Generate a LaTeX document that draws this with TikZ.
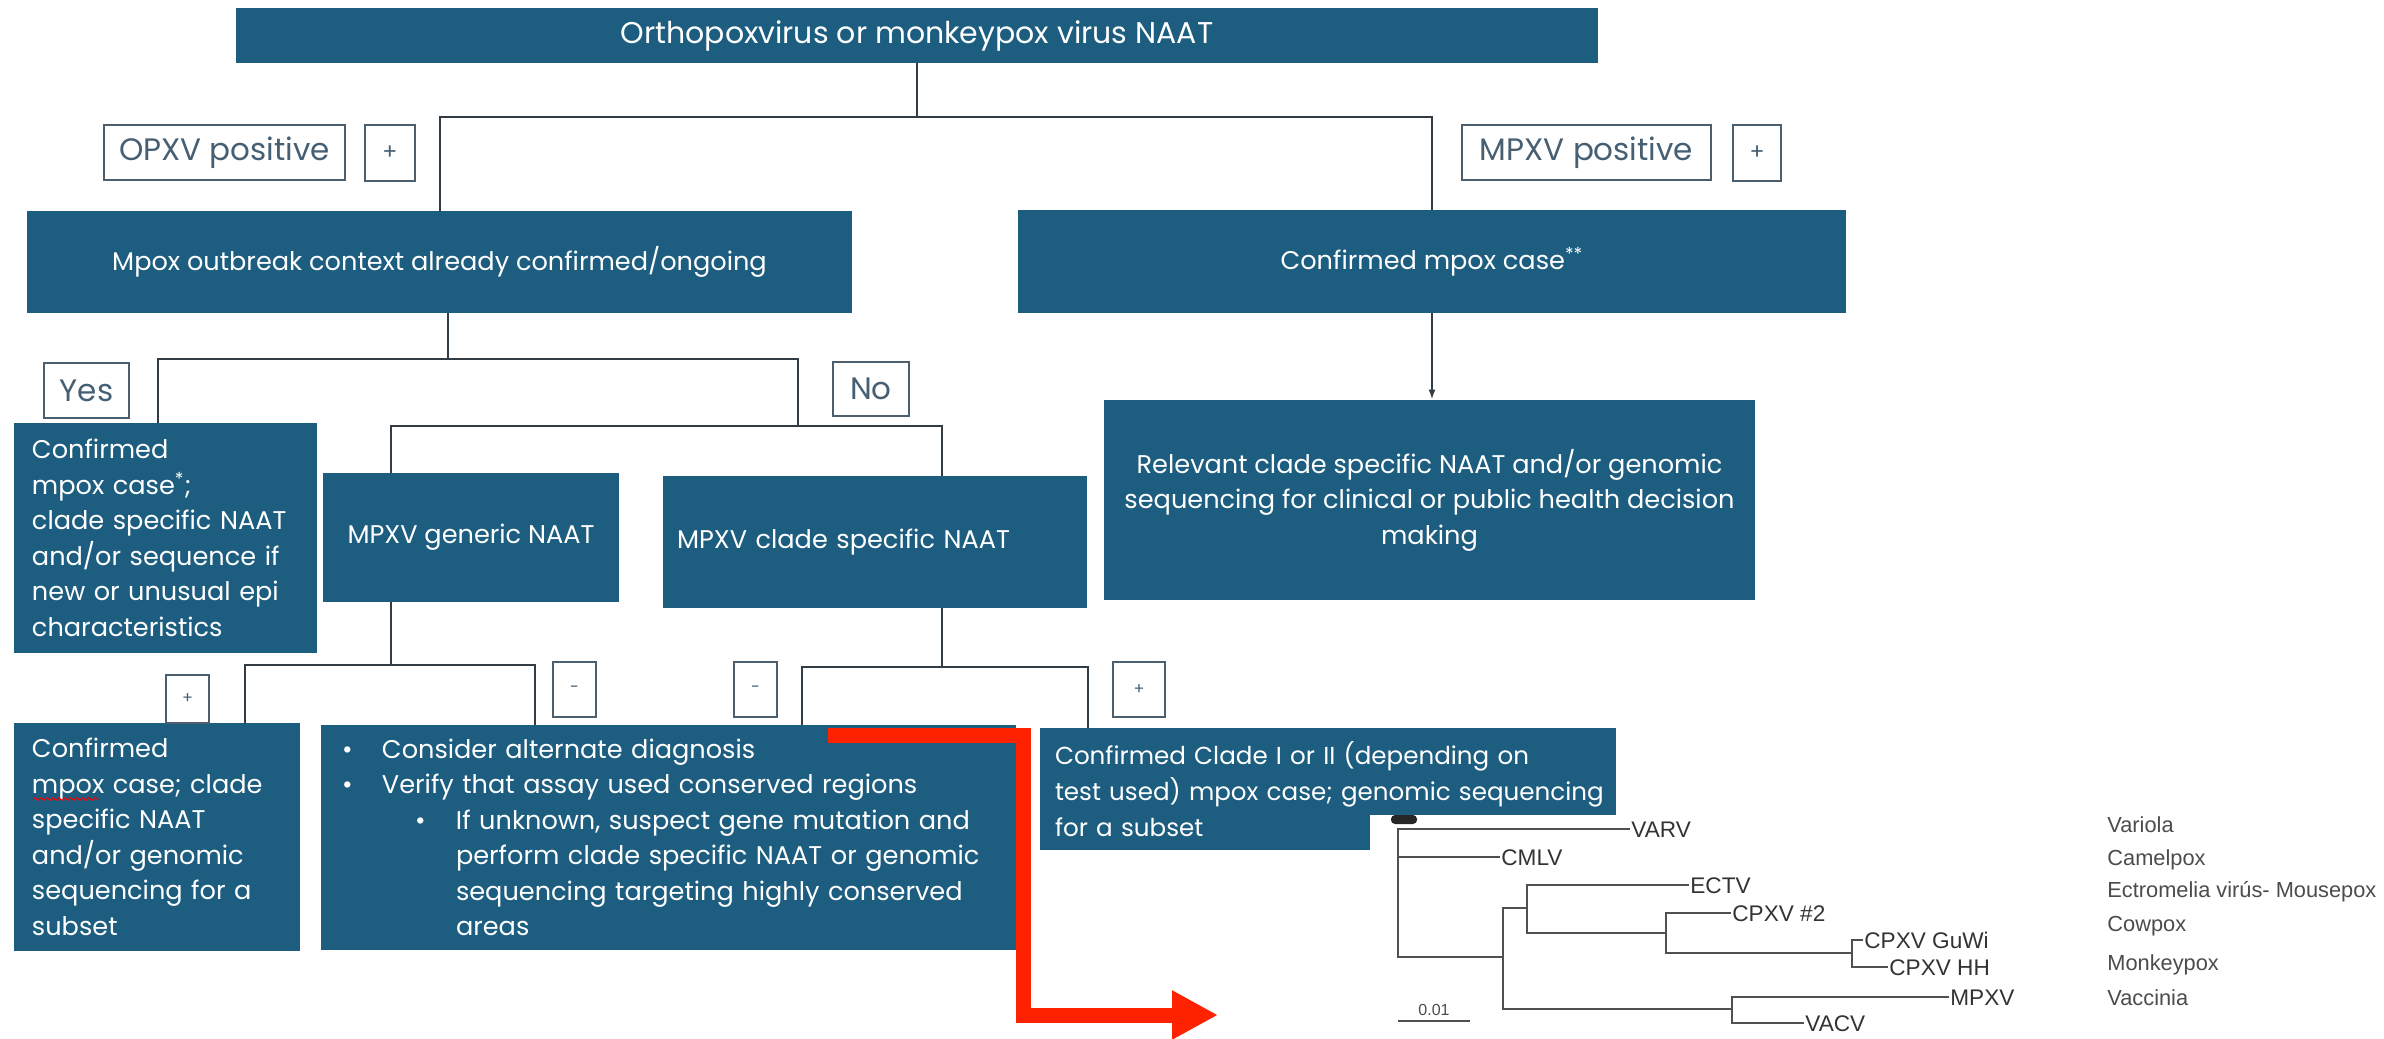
\documentclass[tikz,border=0pt]{standalone}
\usepackage{fontspec}
\setmainfont{Poppins}
\newfontfamily\treefont{Liberation Sans}
\usetikzlibrary{arrows.meta,decorations.pathmorphing}
\definecolor{boxblue}{RGB}{28,93,128}
\definecolor{lblborder}{RGB}{75,95,110}
\definecolor{lbltext}{RGB}{70,95,115}
\definecolor{wirecol}{RGB}{50,60,68}
\definecolor{redarrow}{RGB}{255,34,0}
\definecolor{treegray}{RGB}{80,80,80}
\begin{document}
\begin{tikzpicture}[x=0.5pt,y=-0.5pt,
  box/.style={fill=boxblue, draw=none, text=white, font=\fontsize{12.8}{17.75}\selectfont, inner sep=0pt},
  lbl/.style={fill=white, draw=lblborder, line width=1.1pt, text=lbltext, font=\fontsize{15.5}{17}\selectfont, inner sep=0pt},
  sml/.style={lbl, font=\fontsize{8}{9}\selectfont},
  wire/.style={draw=wirecol, line width=1pt},
  tree/.style={draw=treegray, line width=1.3pt, line cap=rect},
  tlab/.style={font=\treefont\fontsize{11.3}{12}\selectfont, text=black!80, inner sep=1pt, anchor=west, text height=8pt, text depth=0pt},
  rlab/.style={tlab, font=\treefont\fontsize{10.9}{12}\selectfont, text=black!70},
]
\useasboundingbox (0,0) rectangle (2384,1039);

% main boxes
\node[box, minimum width=681pt, minimum height=27.5pt, font=\fontsize{15}{17}\selectfont] (title) at (917,35.5) {Orthopoxvirus or monkeypox virus NAAT};
\node[box, minimum width=412.5pt, minimum height=51pt] (outb) at (439.5,262) {Mpox outbreak context already confirmed/ongoing};
\node[box, minimum width=414pt, minimum height=51.5pt] (conf2) at (1432,261.5) {Confirmed mpox case\textsuperscript{**}};
\node[box, minimum width=325.5pt, minimum height=100pt, align=center] (rel) at (1429.5,500) {Relevant clade specific NAAT and/or genomic\\sequencing for clinical or public health decision\\making};
\node[box, minimum width=151.5pt, minimum height=115pt, align=left, text width=133.5pt, inner xsep=9pt] (conf1) at (165.5,538) {\mbox{Confirmed}\\\mbox{mpox case\textsuperscript{*};}\\\mbox{clade specific NAAT}\\\mbox{and/or sequence if}\\\mbox{new or unusual epi}\\\mbox{characteristics}};
\node[box, minimum width=148pt, minimum height=64.5pt] (gen) at (471,537.5) {MPXV generic NAAT};
\node[box, minimum width=212pt, minimum height=66pt, align=left, text width=198pt, inner xsep=7pt] (clade) at (875,542) {\mbox{MPXV clade specific NAAT}};
\node[box, minimum width=143pt, minimum height=114pt, align=left, text width=125pt, inner xsep=9pt] (bl) at (157,837) {\mbox{Confirmed}\\\mbox{mpox case; clade}\\\mbox{specific NAAT}\\\mbox{and/or genomic}\\\mbox{sequencing for a}\\\mbox{subset}};
\node[box, minimum width=347.5pt, minimum height=112.5pt, align=left, text width=326.5pt, inner xsep=10.5pt] (bul) at (668.5,837.5) {\mbox{\makebox[20pt][l]{\textbullet}Consider alternate diagnosis}\\
\mbox{\makebox[20pt][l]{\textbullet}Verify that assay used conserved regions}\\
\mbox{\hspace*{36.5pt}\makebox[20.5pt][l]{\textbullet}If unknown, suspect gene mutation and}\\
\mbox{\hspace*{57pt}perform clade specific NAAT or genomic}\\
\mbox{\hspace*{57pt}sequencing targeting highly conserved}\\
\mbox{\hspace*{57pt}areas}};
\node[box, minimum width=288pt, minimum height=61pt, align=left, text width=273pt, inner xsep=7.5pt, font=\fontsize{12.3}{18}\selectfont] (cr) at (1328,789) {\mbox{Confirmed Clade I or II (depending on}\\\mbox{test used) mpox case; genomic sequencing}\\\mbox{for a subset}};

% label boxes
\node[lbl, minimum width=120.5pt, minimum height=27.5pt] (opxv) at (224.5,152.5) {OPXV positive};
\node[lbl, minimum width=25pt, minimum height=28pt, font=\fontsize{11}{12}\selectfont] (p1) at (390,153) {+};
\node[lbl, minimum width=124.5pt, minimum height=27.5pt] (mpxv) at (1586.5,152.5) {MPXV positive};
\node[lbl, minimum width=24pt, minimum height=28pt, font=\fontsize{11}{12}\selectfont] (p2) at (1757,153) {+};
\node[lbl, minimum width=42.5pt, minimum height=27.5pt] (yes) at (86.5,390.5) {Yes};
\node[lbl, minimum width=38pt, minimum height=27pt] (no) at (871,389) {No};
\node[sml, minimum width=21.5pt, minimum height=24pt] (p3) at (187.5,699) {+};
\node[sml, minimum width=21.5pt, minimum height=27.5pt] (m1) at (574.5,689.5) {-};
\node[sml, minimum width=21.5pt, minimum height=27.5pt] (m2) at (755.5,689.5) {-};
\node[sml, minimum width=26pt, minimum height=27.5pt] (p4) at (1139,689.5) {+};

% connectors
\coordinate (j1) at (917,117);
\draw[wire] (title.south) -- (j1);
\draw[wire] (outb.north) |- (j1) -| (conf2.north);
\draw[wire, -{Latex[length=5pt,width=3.5pt]}] (conf2.south) -- (conf2.south |- rel.north);

\coordinate (j2) at (448,359);
\coordinate (j2l) at (158,359);
\coordinate (j2r) at (798,359);
\coordinate (j3) at (798,426);
\coordinate (j3l) at (391,426);
\coordinate (j3r) at (942,426);
\draw[wire] (outb.south -| j2) -- (j2);
\draw[wire] (conf1.north -| j2l) -- (j2l) -- (j2r) -- (j3);
\draw[wire] (gen.north -| j3l) -- (j3l) -- (j3r) -- (clade.north -| j3r);

\coordinate (j4) at (391,665);
\coordinate (j4l) at (245,665);
\coordinate (j4r) at (535,665);
\draw[wire] (gen.south -| j4) -- (j4);
\draw[wire] (bl.north -| j4l) -- (j4l) -- (j4r) -- (bul.north -| j4r);

\coordinate (j5) at (942,667);
\coordinate (j5l) at (802,667);
\coordinate (j5r) at (1088,667);
\draw[wire] (clade.south -| j5) -- (j5);
\draw[wire] (bul.north -| j5l) -- (j5l) -- (j5r) -- (cr.north -| j5r);

% spell-check squiggle
\draw[red, line width=0.5pt, decorate, decoration={snake, amplitude=0.7pt, segment length=3pt}] (33,799) -- (98,799);

% red arrow
\coordinate (rs) at (828,735.5);
\coordinate (rc1) at (1023,735.5);
\coordinate (rc2) at (1023,1015);
\coordinate (re) at (1218,1015);
\draw[draw=redarrow, line width=7.5pt, -{Triangle[length=23pt,width=23pt]}] (rs) -- (rc1) -- (rc2) -- (re);

% tree panel
\fill[white] (1370,815) rectangle (2384,1039);
\fill[black!85, rounded corners=2pt] (1391,815) rectangle (1417,824);

\node[tlab] (varv) at (1629,829) {VARV};
\node[tlab] (cmlv) at (1499,857) {CMLV};
\node[tlab] (ectv) at (1688,885) {ECTV};
\node[tlab] (cpx2) at (1730,913) {CPXV \#2};
\node[tlab] (guwi) at (1862,940) {CPXV GuWi};
\node[tlab] (hh) at (1887,967) {CPXV HH};
\node[tlab] (mpxvl) at (1948,997) {MPXV};
\node[tlab] (vacv) at (1803,1023) {VACV};
\node[font=\treefont\fontsize{8}{9}\selectfont, text=black!70, inner sep=0pt] (scl) at (1434,1010) {0.01};

\draw[tree] (1398,829) -- (1398,957);
\draw[tree] (1398,829) -- (varv.west);
\draw[tree] (1398,857) -- (cmlv.west);
\draw[tree] (1398,957) -- (1503,957);
\draw[tree] (1503,908) -- (1503,1009);
\draw[tree] (1503,908) -- (1527,908);
\draw[tree] (1527,885) -- (1527,933);
\draw[tree] (1527,885) -- (ectv.west);
\draw[tree] (1527,933) -- (1666,933);
\draw[tree] (1666,913) -- (1666,953);
\draw[tree] (1666,913) -- (cpx2.west);
\draw[tree] (1666,953) -- (1852,953);
\draw[tree] (1852,940) -- (1852,967);
\draw[tree] (1852,940) -- (guwi.west);
\draw[tree] (1852,967) -- (hh.west);
\draw[tree] (1503,1009) -- (1732,1009);
\draw[tree] (1732,997) -- (1732,1023);
\draw[tree] (1732,997) -- (mpxvl.west);
\draw[tree] (1732,1023) -- (vacv.west);
\draw[tree, line width=1pt, line cap=butt] (1398,1021) -- (1470,1021);

\node[rlab] (lvar) at (2105,824) {Variola};
\node[rlab] (lcam) at (2105,857) {Camelpox};
\node[rlab] (lect) at (2105,889) {Ectromelia virús- Mousepox};
\node[rlab] (lcow) at (2105,923) {Cowpox};
\node[rlab] (lmon) at (2105,962) {Monkeypox};
\node[rlab] (lvac) at (2105,997) {Vaccinia};
\end{tikzpicture}
\end{document}
